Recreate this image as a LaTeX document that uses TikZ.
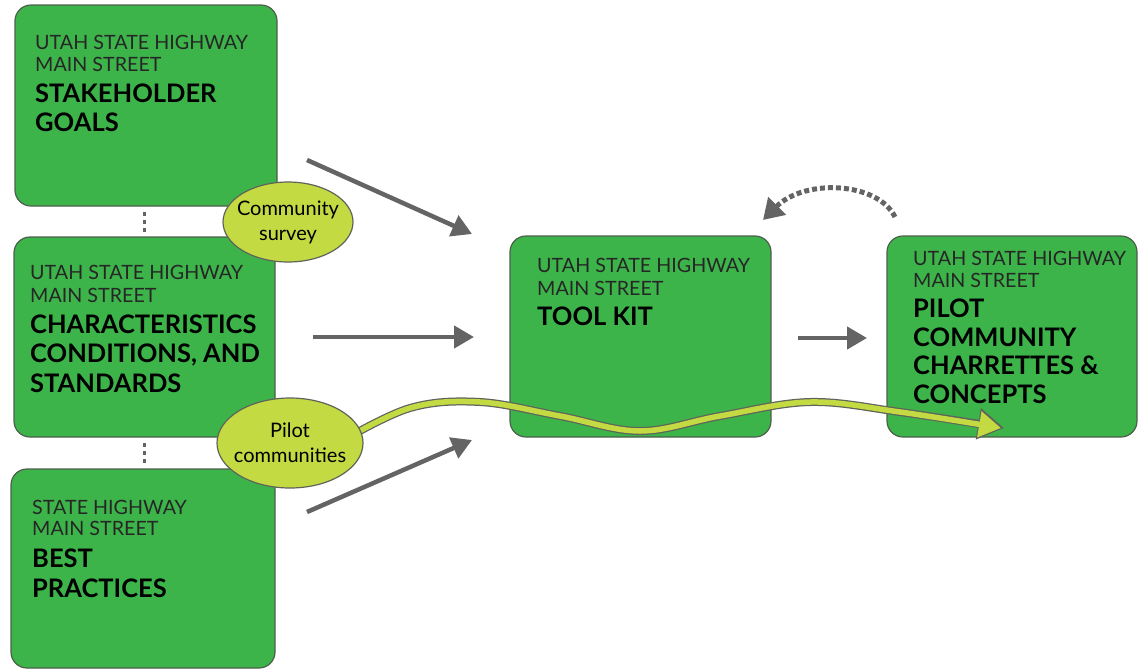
\documentclass[tikz,border=0pt]{standalone}
\usepackage{fontspec}
\setmainfont{Lato}
\usetikzlibrary{arrows.meta,shapes.geometric}
\definecolor{boxgreen}{RGB}{60,180,74}
\definecolor{boxedge}{RGB}{75,95,75}
\definecolor{limefill}{RGB}{196,218,66}
\definecolor{ellgray}{RGB}{95,100,90}
\definecolor{arrowgray}{RGB}{100,100,100}
\tikzset{
  box/.style={draw=boxedge, line width=1.2pt, fill=boxgreen, rounded corners=16pt, inner sep=0pt},
  ell/.style={ellipse, draw=ellgray, fill=limefill, line width=1.2pt, inner sep=-12pt, align=center,
    font=\fontsize{20}{25}\selectfont},
  smalltxt/.style={anchor=base west, font=\fontsize{19.7}{22}\selectfont, text=black!85, inner sep=0pt},
  bigtxt/.style={anchor=base west, font=\fontsize{25.5}{28}\selectfont\bfseries, text=black, inner sep=0pt},
  garrow/.style={draw=arrowgray, line width=4.5pt, -{Triangle[length=20pt,width=22pt]}},
  dotline/.style={draw=arrowgray, line width=3pt, dash pattern=on 4pt off 4pt},
}
\begin{document}
\begin{tikzpicture}[x=1pt,y=-1pt]
\useasboundingbox (0,0) rectangle (1138,670);
% boxes
\node[box, minimum width=262pt, minimum height=201pt] (b1) at (146,105.5) {};
\node[box, minimum width=261pt, minimum height=200pt] (b2) at (144.5,337) {};
\node[box, minimum width=264pt, minimum height=199pt] (b3) at (143,568.5) {};
\node[box, minimum width=261pt, minimum height=201pt] (b4) at (640.5,336.5) {};
\node[box, minimum width=250pt, minimum height=201pt] (b5) at (1012,336.5) {};
% dotted links between left boxes
\draw[dotline] ([yshift=-5pt]b1.south -| 144,0) -- ([yshift=3pt]b2.north -| 144,0);
\draw[dotline] ([yshift=-5pt]b2.south -| 144,0) -- ([yshift=3pt]b3.north -| 144,0);
% gray arrows
\coordinate (a1s) at (307,160); \coordinate (a1e) at (472,234);
\coordinate (a2s) at (313,337); \coordinate (a2e) at (474,337);
\coordinate (a3s) at (307,512); \coordinate (a3e) at (472,440);
\coordinate (a4s) at (798,338); \coordinate (a4e) at (867,338);
\draw[garrow] (a1s) -- (a1e);
\draw[garrow] (a2s) -- (a2e);
\draw[garrow] (a3s) -- (a3e);
\draw[garrow] (a4s) -- (a4e);
% dotted feedback arrow
\coordinate (fs) at (895,217); \coordinate (fe) at (763,220);
\draw[draw=arrowgray, line width=5pt, dash pattern=on 5pt off 3pt, -{Triangle[length=20pt,width=24pt]}]
  (fs) .. controls (878,182) and (805,178) .. (fe);
% lime wavy arrow
\draw[draw=ellgray, line width=8pt, -{Triangle[length=26pt,width=30pt]}]
  plot[smooth, tension=0.6] coordinates {(340,442) (410,408) (480,402) (560,416) (640,431) (720,416) (810,402) (900,412) (1004,428)};
\draw[draw=limefill, line width=5.5pt, -{Triangle[length=22pt,width=25pt]}]
  plot[smooth, tension=0.6] coordinates {(340,442) (410,408) (480,402) (560,416) (640,431) (720,416) (810,402) (900,412) (1001,428)};
% ellipses
\node[ell, minimum width=130pt, minimum height=80pt] (e1) at (288,222) {Community\\survey};
\node[ell, minimum width=146pt, minimum height=90pt] (e2) at (290,443) {Pilot\\communities};
% texts box 1
\node[smalltxt] (t11) at (35,49) {UTAH STATE HIGHWAY};
\node[smalltxt] (t12) at (35,71) {MAIN STREET};
\node[bigtxt] (t13) at (35,102) {STAKEHOLDER};
\node[bigtxt] (t14) at (35,131) {GOALS};
% texts box 2
\node[smalltxt] (t21) at (30,279) {UTAH STATE HIGHWAY};
\node[smalltxt] (t22) at (30,302) {MAIN STREET};
\node[bigtxt] (t23) at (30,333) {CHARACTERISTICS};
\node[bigtxt] (t24) at (30,362) {CONDITIONS, AND};
\node[bigtxt] (t25) at (30,392) {STANDARDS};
% texts box 3
\node[smalltxt] (t31) at (32,514) {STATE HIGHWAY};
\node[smalltxt] (t32) at (32,535) {MAIN STREET};
\node[bigtxt] (t33) at (32,567) {BEST};
\node[bigtxt] (t34) at (32,597) {PRACTICES};
% texts box 4
\node[smalltxt] (t41) at (537,272) {UTAH STATE HIGHWAY};
\node[smalltxt] (t42) at (537,295) {MAIN STREET};
\node[bigtxt] (t43) at (537,325) {TOOL KIT};
% texts box 5
\node[smalltxt] (t51) at (913,265) {UTAH STATE HIGHWAY};
\node[smalltxt] (t52) at (913,287) {MAIN STREET};
\node[bigtxt] (t53) at (913,317) {PILOT};
\node[bigtxt] (t54) at (913,346) {COMMUNITY};
\node[bigtxt] (t55) at (913,374) {CHARRETTES \&};
\node[bigtxt] (t56) at (913,403) {CONCEPTS};
\end{tikzpicture}
\end{document}
